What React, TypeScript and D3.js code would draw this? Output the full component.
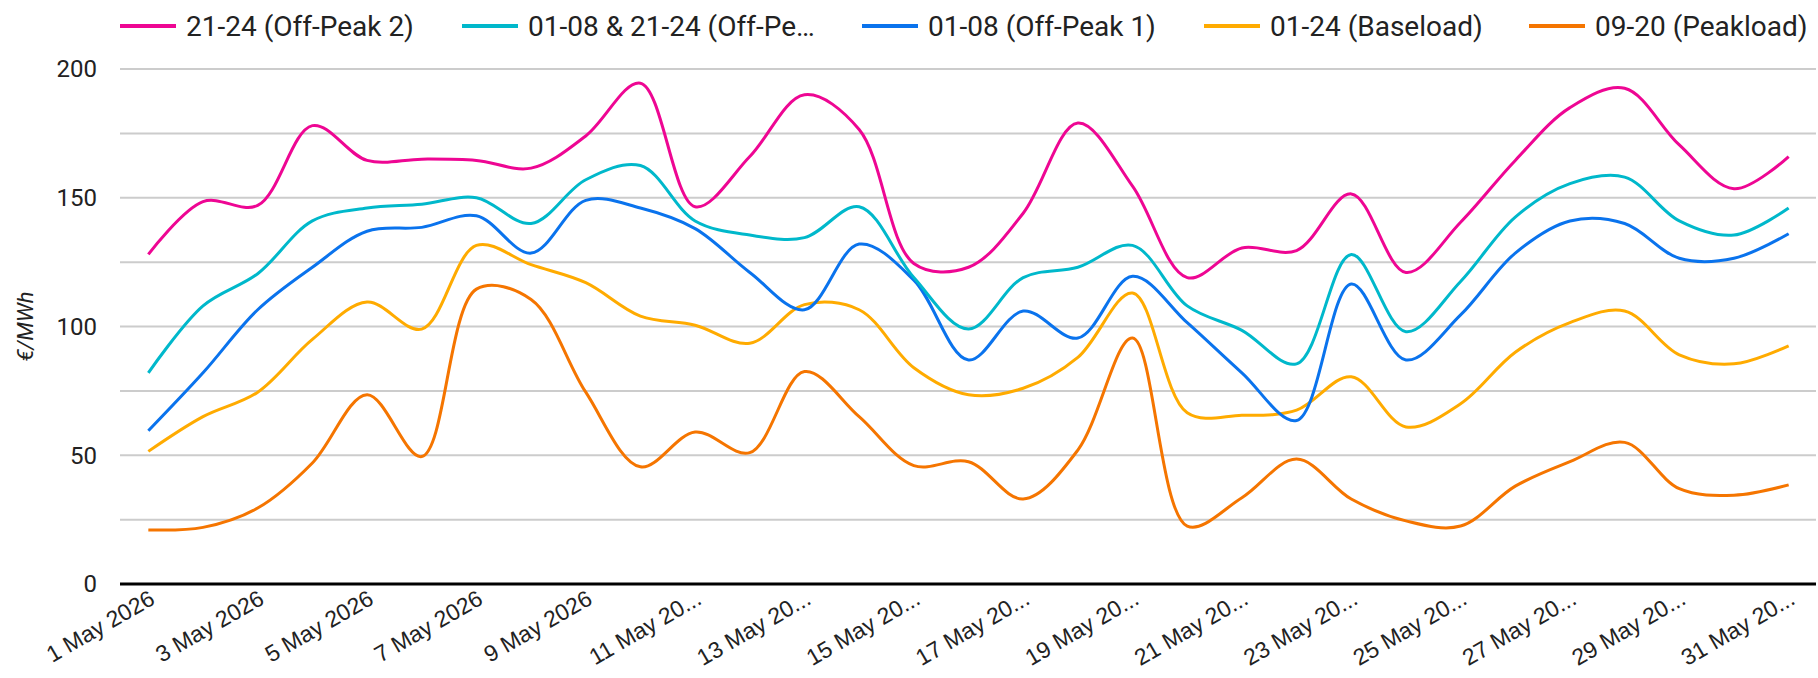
import * as d3 from 'd3';
import React, { useRef, useEffect } from 'react';

// days of May 2026
const days = d3.range(1, 32);

const tickLabels = ["1 May 2026", "3 May 2026", "5 May 2026", "7 May 2026", "9 May 2026",
    "11 May 20...", "13 May 20...", "15 May 20...", "17 May 20...", "19 May 20...", "21 May 20...",
    "23 May 20...", "25 May 20...", "27 May 20...", "29 May 20...", "31 May 20..."];

const seriesNames = ["21-24 (Off-Peak 2)", "01-08 & 21-24 (Off-Pe…", "01-08 (Off-Peak 1)", "01-24 (Baseload)", "09-20 (Peakload)"];

const offPeak2 = [128, 148.5, 147, 178, 164.5, 165, 164.5, 161.5, 174, 194.5, 146.5,
    166, 190, 176.5, 124.5, 123, 144, 179, 154.5, 119, 130.5,
    129.5, 151.5, 121, 140.5, 164.5, 185, 192.5, 170.5, 153.5, 166];
const offPeakBoth = [82, 108, 120.5, 141, 146, 147.5, 150, 140, 157, 162.5, 141,
    135.5, 134.5, 146.5, 119, 99, 119, 123, 131.5, 108, 98.5,
    85.5, 128, 98, 117.5, 142.5, 155.5, 158, 141, 135.5, 146];
const offPeak1 = [59.5, 82, 106.5, 123, 137, 138.5, 143, 128.5, 149, 146, 138,
    121, 106.5, 132, 118, 87, 106, 95.5, 119.5, 101.5, 82,
    63.5, 116.5, 87, 104.5, 128.5, 141, 140, 126.5, 126.5, 136];
const baseload = [51.5, 65, 74.5, 95, 109.5, 99, 131.5, 124, 117, 104, 100.5,
    93.5, 108.5, 106.5, 84, 73.5, 76, 88, 113, 66.5, 65.5,
    67.5, 80.5, 61, 70, 90, 101.5, 106, 89, 85.5, 92.5];
const peakload = [21, 22, 29.5, 47, 73.5, 49.5, 114.5, 110.5, 74.5, 45.5, 59,
    51, 82.5, 65, 46, 47.5, 33, 52, 95.5, 22.5, 33.5,
    48.5, 33, 24.5, 22.5, 38, 47.5, 55, 37, 34.5, 38.5];

const colors = ["#ee0693", "#00b8cb", "#0a73ed", "#ffab00", "#f57500"];

function App() {
    const ref = useRef(null);

    useEffect(() => {
        draw();
    }, []);

    const draw = () => {
        const width = 1818, height = 678;
        const svg = d3.select(ref.current);
        svg.selectAll("*").remove();
        svg.attr("width", width).attr("height", height);

        const margin = { top: 69, right: 2, bottom: 94, left: 121 };

        const x = d3.scalePoint()
            .domain(days)
            .range([margin.left, width - margin.right])
            .padding(0.5);

        const y = d3.scaleLinear()
            .domain([0, 200])
            .range([height - margin.bottom, margin.top]);

        // gridlines every 25
        svg.append("g")
            .selectAll("line")
            .data(d3.range(25, 201, 25))
            .enter()
            .append("line")
            .attr("x1", margin.left - 1)
            .attr("x2", width - margin.right)
            .attr("y1", d => y(d))
            .attr("y2", d => y(d))
            .attr("stroke", "#cccccc")
            .attr("stroke-width", 2);

        // y labels
        svg.append("g")
            .selectAll("text")
            .data([0, 50, 100, 150, 200])
            .enter()
            .append("text")
            .attr("x", 97)
            .attr("y", d => y(d))
            .attr("dy", "0.35em")
            .style("text-anchor", "end")
            .style("font-family", "Roboto, sans-serif")
            .style("font-size", "24px")
            .style("fill", "#222")
            .text(d => d);

        svg.append("text")
            .attr("transform", "translate(33," + y(100) + ") rotate(-90)")
            .style("text-anchor", "middle")
            .style("font-family", "Roboto, sans-serif")
            .style("font-style", "italic")
            .style("font-size", "22px")
            .style("fill", "#222")
            .text("€/MWh");

        const allSeries = [offPeak2, offPeakBoth, offPeak1, baseload, peakload];

        const line = d3.line()
            .curve(d3.curveCatmullRom.alpha(0.5))
            .x((d, i) => x(days[i]))
            .y(d => y(d));

        // draw bottom series first so the top ones lie above
        for (let s = allSeries.length - 1; s >= 0; s--) {
            svg.append("path")
                .datum(allSeries[s])
                .attr("d", line)
                .attr("fill", "none")
                .attr("stroke", colors[s])
                .attr("stroke-width", 3);
        }

        // x axis line
        svg.append("line")
            .attr("x1", margin.left - 1)
            .attr("x2", width - margin.right)
            .attr("y1", y(0))
            .attr("y2", y(0))
            .attr("stroke", "#000")
            .attr("stroke-width", 3);

        // x tick labels, every second day
        const tickDays = days.filter(d => d % 2 === 1);
        svg.append("g")
            .selectAll("text")
            .data(tickDays)
            .enter()
            .append("text")
            .attr("transform", d => "translate(" + (x(d) + 8) + "," + 603 + ") rotate(-30)")
            .style("text-anchor", "end")
            .style("font-family", "'Liberation Sans', Arial, sans-serif")
            .style("font-size", "23px")
            .style("fill", "#222")
            .text((d, i) => tickLabels[i]);

        // legend
        const legendX = [120, 462, 862, 1204, 1529];
        const lg = svg.append("g");
        seriesNames.forEach((name, i) => {
            lg.append("line")
                .attr("x1", legendX[i])
                .attr("x2", legendX[i] + 56)
                .attr("y1", 26)
                .attr("y2", 26)
                .attr("stroke", colors[i])
                .attr("stroke-width", 4);
            lg.append("text")
                .attr("x", legendX[i] + 66)
                .attr("y", 26)
                .attr("dy", "0.36em")
                .style("font-family", "Roboto, sans-serif")
                .style("font-size", "28px")
                .style("fill", "#222")
                .text(name);
        });
    };

    return (
        <div className="chart">
            <svg ref={ref} style={{ position: "absolute", left: 0, top: 0, display: "block", background: "#fff" }}>
            </svg>
        </div>
    );
}

export default App;
